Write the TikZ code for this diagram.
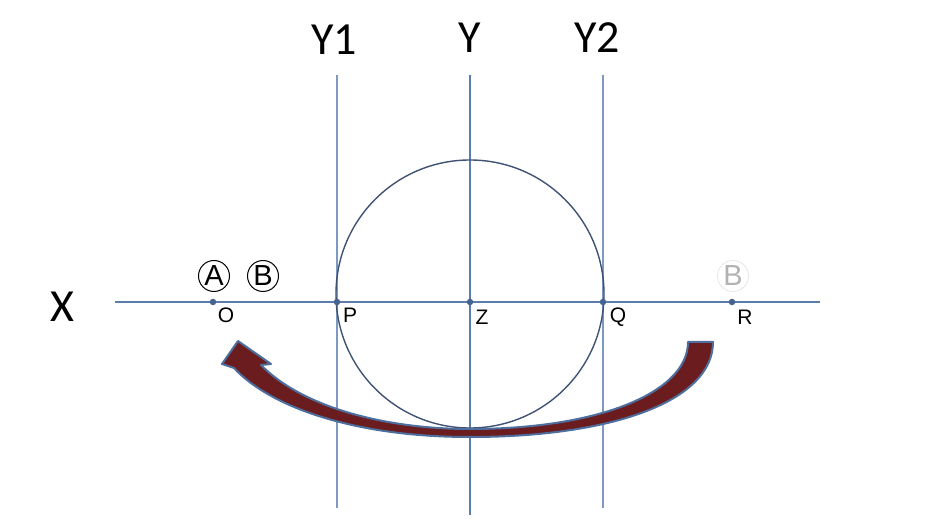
\documentclass[tikz,border=0pt]{standalone}
\usepackage{fontspec}
\setmainfont{Liberation Sans}
\newfontfamily\bigf{Carlito}
\begin{document}
\begin{tikzpicture}[x=1pt,y=-1pt,
  axisline/.style={draw=axisblue,line width=1.4pt},
  sideline/.style={draw=sideblue,line width=1.1pt},
  ptdot/.style={circle,fill=dotblue,inner sep=0pt,minimum size=6.5pt},
  ptlab/.style={font=\fontsize{21}{21}\selectfont,anchor=center},
  biglab/.style={font=\bigf\fontsize{46}{46}\selectfont},
  circlet/.style={circle,draw=black,line width=1pt,minimum size=31pt,inner sep=0pt,font=\fontsize{29}{29}\selectfont}]
\definecolor{axisblue}{HTML}{5B7DAE}
\definecolor{sideblue}{HTML}{7E9AC2}
\definecolor{dotblue}{HTML}{44648F}
\definecolor{circblue}{HTML}{3F5274}
\definecolor{arrowred}{HTML}{6A1C1E}
\definecolor{arrowedge}{HTML}{4E6E9E}
\useasboundingbox (0,0) rectangle (940,529);
% vertical lines
\coordinate (y1t) at (337,75); \coordinate (y1b) at (337,508);
\coordinate (yt) at (470,75); \coordinate (yb) at (470,515);
\coordinate (y2t) at (603,75); \coordinate (y2b) at (603,508);
\coordinate (xl) at (115,302); \coordinate (xr) at (820,302);
\draw[sideline] (y1t) -- (y1b);
\draw[sideline] (y2t) -- (y2b);
\draw[axisline] (yt) -- (yb);
\draw[axisline] (xl) -- (xr);
% circle
\draw[circblue,line width=1.4pt] (470,294) circle[radius=134];
% points
\node[ptdot] (O) at (213,302) {};
\node[ptdot] (P) at (337,302) {};
\node[ptdot] (Z) at (470,302) {};
\node[ptdot] (Q) at (603,302) {};
\node[ptdot] (R) at (732,302) {};
\node[ptlab] (Ol) at (226,315) {O};
\node[ptlab] (Pl) at (350,315) {P};
\node[ptlab] (Zl) at (482,317) {Z};
\node[ptlab] (Ql) at (618,317) {Q};
\node[ptlab] (Rl) at (745,317) {R};
% big labels
\node[biglab] (Xl) at (62,307) {X};
\node[biglab] (Y1l) at (334,40) {Y1};
\node[biglab] (Yl) at (470,38) {Y};
\node[biglab] (Y2l) at (597,38) {Y2};
% circled letters
\node[circlet] (A) at (214,276) {A};
\node[circlet] (B) at (263,276) {B};
\node[circlet,draw=black!12,line width=0.6pt,text=black!30] (B2) at (733,276) {B};
% curved arrow
\fill[arrowred,draw=arrowedge,line width=2pt,line join=round]
  (713,342) .. controls (713,402) and (610,437) .. (470,437)
  .. controls (350,437) and (268,405) .. (234,368)
  -- (222,364) -- (238,341) -- (271,364) -- (261,365)
  .. controls (300,405) and (380,429) .. (470,429)
  .. controls (600,429) and (688,392) .. (688,342) -- cycle;
\end{tikzpicture}
\end{document}
